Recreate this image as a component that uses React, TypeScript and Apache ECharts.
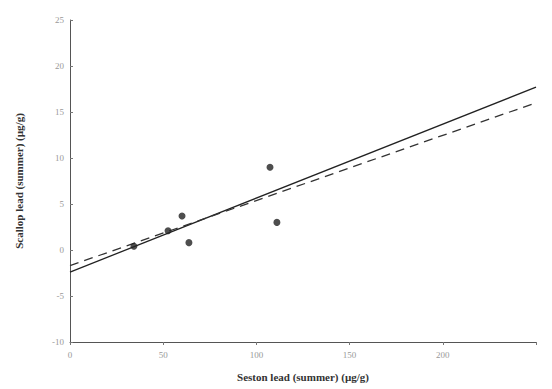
import React, { useEffect, useRef } from "react";
import * as echarts from "echarts";

const sestonLead = [34.3, 52.6, 60.1, 63.8, 107.3, 111];
const scallopLead = [0.4, 2.1, 3.7, 0.8, 9.0, 3.0];
const solidFitX = [0, 250];
const solidFitY = [-2.4, 17.7];
const dashedFitX = [0, 250];
const dashedFitY = [-1.7, 16.0];
const xTicks = [0, 50, 100, 150, 200];

export default function App() {
  const ref = useRef<HTMLDivElement>(null);
  useEffect(() => {
    if (!ref.current) return;
    const chart = echarts.init(ref.current, null, { renderer: "svg" });
    const font = "Liberation Serif";
    chart.setOption({
      animation: false,
      backgroundColor: "#fff",
      grid: { left: 70, right: 16, top: 20, bottom: 47 },
      xAxis: {
        type: "value",
        min: 0,
        max: 250,
        interval: 50,
        name: "Seston lead (summer) (\u00b5g/g)",
        nameLocation: "middle",
        nameGap: 29,
        nameTextStyle: { fontFamily: font, fontSize: 11, fontWeight: "bold", color: "#333" },
        axisLine: { onZero: false, lineStyle: { color: "#555", width: 1 } },
        axisTick: { show: true, length: 3, lineStyle: { color: "#777" } },
        axisLabel: {
          fontFamily: font,
          fontSize: 9,
          color: "#999",
          formatter: (v: number) => (xTicks.includes(v) ? String(v) : ""),
        },
        splitLine: { show: false },
      },
      yAxis: {
        type: "value",
        min: -10,
        max: 25,
        interval: 5,
        name: "Scallop lead (summer) (\u00b5g/g)",
        nameLocation: "middle",
        nameGap: 46,
        nameTextStyle: { fontFamily: font, fontSize: 11, fontWeight: "bold", color: "#333" },
        axisLine: { show: true, onZero: false, lineStyle: { color: "#555", width: 1 } },
        axisTick: { show: true, inside: true, length: 3, lineStyle: { color: "#777" } },
        axisLabel: { fontFamily: font, fontSize: 9, color: "#999", margin: 6 },
        splitLine: { show: false },
      },
      series: [
        {
          type: "scatter",
          data: sestonLead.map((x, i) => [x, scallopLead[i]]),
          symbol: "circle",
          symbolSize: 7,
          itemStyle: { color: "#222" },
          z: 5,
        },
        {
          type: "line",
          data: solidFitX.map((x, i) => [x, solidFitY[i]]),
          symbol: "none",
          lineStyle: { color: "#222", width: 1.3, type: "solid" },
        },
        {
          type: "line",
          data: dashedFitX.map((x, i) => [x, dashedFitY[i]]),
          symbol: "none",
          lineStyle: { color: "#333", width: 1.3, type: [9, 6] },
        },
      ],
    });
    return () => chart.dispose();
  }, []);
  return <div ref={ref} style={{ width: 552, height: 389, position: "absolute", left: 0, top: 0 }} />;
}
